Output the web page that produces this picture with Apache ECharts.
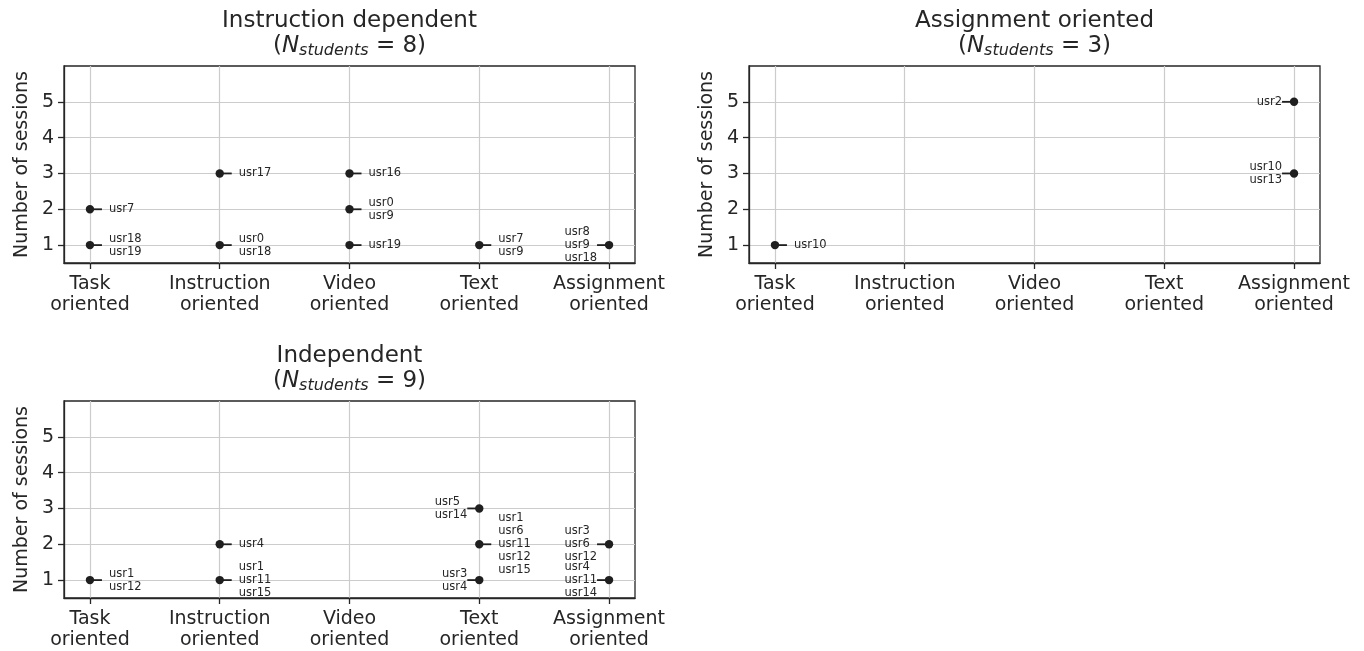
<!DOCTYPE html>
<html><head><meta charset="utf-8">
<script src="https://cdn.jsdelivr.net/npm/echarts@6/dist/echarts.min.js"></script>
<style>html,body{margin:0;padding:0;background:#fff}#chart{width:1364px;height:651px}</style>
</head><body><div id="chart"></div>
<script>
// ---------------- data ----------------
const categories = ['Task\noriented', 'Instruction\noriented', 'Video\noriented', 'Text\noriented', 'Assignment\noriented'];
const categoryTicks = [0, 1, 2, 3, 4];
const sessionTicks = [1, 2, 3, 4, 5];

const panelTitles = ['Instruction dependent', 'Assignment oriented', 'Independent'];
const panelStudents = [8, 3, 9];

const instrDepCategory = [0, 0, 1, 1, 2, 2, 2, 3, 4];
const instrDepSessions = [2, 1, 3, 1, 3, 2, 1, 1, 1];
const instrDepUsers = ['usr7', 'usr18\nusr19', 'usr17', 'usr0\nusr18', 'usr16', 'usr0\nusr9', 'usr19', 'usr7\nusr9', 'usr8\nusr9\nusr18'];

const assignCategory = [0, 4, 4];
const assignSessions = [1, 5, 3];
const assignUsers = ['usr10', 'usr2', 'usr10\nusr13'];

const indepCategory = [0, 1, 1, 3, 3, 3, 4, 4];
const indepSessions = [1, 2, 1, 3, 2, 1, 2, 1];
const indepUsers = ['usr1\nusr12', 'usr4', 'usr1\nusr11\nusr15', 'usr5\nusr14', 'usr1\nusr6\nusr11\nusr12\nusr15', 'usr3\nusr4', 'usr3\nusr6\nusr12', 'usr4\nusr11\nusr14'];

// ---------------- layout / style ----------------
const FONT = '"DejaVu Sans", "Noto Sans", sans-serif';
const TXT = '#262626';
const DARK = '#1f1f1f';
const leftLabelIdx = [[8], [1, 2], [3, 5, 6, 7]];
const grids = [
  {left: 64, top: 66, width: 571, height: 197},
  {left: 749, top: 66, width: 571, height: 197},
  {left: 64, top: 401, width: 571, height: 197}
];
const panels = [
  {cat: instrDepCategory, val: instrDepSessions, users: instrDepUsers},
  {cat: assignCategory, val: assignSessions, users: assignUsers},
  {cat: indepCategory, val: indepSessions, users: indepUsers}
];

const ANN_FONT = '11.5px ' + FONT;
const measureCtx = document.createElement('canvas').getContext('2d');
measureCtx.font = ANN_FONT;
function blockWidth(t) {
  return Math.max.apply(null, t.split('\n').map(s => measureCtx.measureText(s).width));
}

function makeRender(users, leftSet) {
  return function (params, api) {
    const i = params.dataIndex;
    const p = api.coord([api.value(0), api.value(1)]);
    const isLeft = leftSet.indexOf(i) >= 0;
    const txt = users[i];
    const children = [];
    let tx;
    if (isLeft) {
      tx = p[0] - 12 - blockWidth(txt);
      children.push({type: 'line', shape: {x1: p[0] - 12, y1: p[1], x2: p[0], y2: p[1]}, style: {stroke: DARK, lineWidth: 1.8}});
    } else {
      tx = p[0] + 19;
      children.push({type: 'line', shape: {x1: p[0], y1: p[1], x2: p[0] + 12, y2: p[1]}, style: {stroke: DARK, lineWidth: 1.8}});
    }
    children.push({type: 'circle', shape: {cx: p[0], cy: p[1], r: 4.2}, style: {fill: DARK}});
    children.push({type: 'text', x: tx, y: p[1], style: {text: txt, font: ANN_FONT, fill: TXT, align: 'left', verticalAlign: 'middle', lineHeight: 13}});
    return {type: 'group', children: children};
  };
}

const chart = echarts.init(document.getElementById('chart'), null, {renderer: 'canvas'});

const option = {
  animation: false,
  backgroundColor: '#ffffff',
  grid: grids.map(g => Object.assign({show: true, borderColor: '#262626', borderWidth: 1.3, backgroundColor: 'transparent', containLabel: false}, g)),
  xAxis: grids.map((g, k) => ({
    type: 'value', gridIndex: k, min: -0.2, max: 4.2,
    axisLine: {show: true, onZero: false, lineStyle: {color: '#262626', width: 1.3}},
    axisTick: {show: true, length: 6, customValues: categoryTicks, lineStyle: {color: '#262626', width: 1.3}},
    axisLabel: {show: true, customValues: categoryTicks, margin: 11, formatter: v => categories[Math.round(v)], color: TXT, fontFamily: FONT, fontSize: 19, lineHeight: 21},
    splitLine: {show: true, lineStyle: {color: '#cccccc', width: 1.2}}
  })),
  yAxis: grids.map((g, k) => ({
    type: 'value', gridIndex: k, min: 0.5, max: 6,
    name: 'Number of sessions', nameLocation: 'middle', nameGap: 32,
    nameTextStyle: {color: TXT, fontFamily: FONT, fontSize: 19},
    axisLine: {show: true, onZero: false, lineStyle: {color: '#262626', width: 1.3}},
    axisTick: {show: true, length: 6, customValues: sessionTicks, lineStyle: {color: '#262626', width: 1.3}},
    axisLabel: {show: true, customValues: sessionTicks, margin: 10, color: TXT, fontFamily: FONT, fontSize: 19},
    splitLine: {show: true, lineStyle: {color: '#cccccc', width: 1.2}}
  })),
  graphic: [],
  series: panels.map((pn, k) => ({
    type: 'custom', xAxisIndex: k, yAxisIndex: k,
    encode: {x: 0, y: 1},
    clip: false,
    data: pn.cat.map((c, i) => [c, pn.val[i]]),
    renderItem: makeRender(pn.users, leftLabelIdx[k])
  }))
};

grids.forEach((g, k) => {
  const cx = g.left + g.width / 2;
  const top = g.top;
  option.graphic.push({
    type: 'text', x: cx, y: top - 45,
    style: {text: panelTitles[k], align: 'center', verticalAlign: 'middle', font: '23px ' + FONT, fill: TXT}
  });
  option.graphic.push({
    type: 'text', x: cx, y: top - 20,
    style: {
      text: '({it|N}{sub|students} = ' + panelStudents[k] + ')',
      align: 'center', verticalAlign: 'middle', font: '23px ' + FONT, fill: TXT, lineHeight: 26,
      rich: {
        it: {fontStyle: 'italic', fontSize: 23, fontFamily: FONT, fill: TXT, lineHeight: 26},
        sub: {fontStyle: 'italic', fontSize: 16, fontFamily: FONT, fill: TXT, lineHeight: 26, padding: [9, 0, 0, 0]}
      }
    }
  });
});

chart.setOption(option);
</script>
</body></html>
